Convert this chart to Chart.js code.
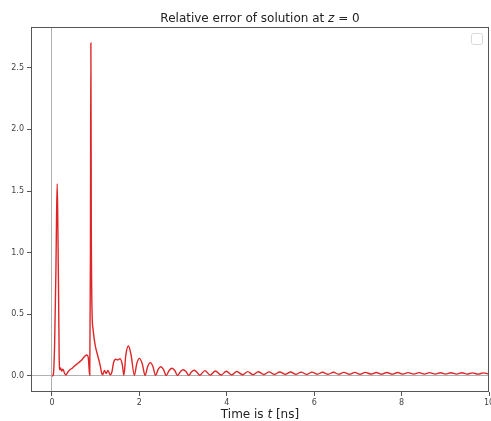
<!DOCTYPE html>
<html>
<head>
<meta charset="utf-8">
<script src="https://cdn.jsdelivr.net/npm/chart.js@4.4.1/dist/chart.umd.min.js"></script>
<style>
  html, body { margin: 0; padding: 0; background: #fff; }
  #wrap { width: 491px; height: 421px; }
</style>
</head>
<body>
<div id="wrap"><canvas id="c" width="491" height="421"></canvas></div>
<script>
// ---- data ----
const timeNs = [
  0, 0.03, 0.06, 0.09, 0.105, 0.12, 0.135, 0.15, 0.165, 0.18,
  0.2, 0.22, 0.25, 0.29, 0.32, 0.36, 0.41, 0.47, 0.53, 0.6,
  0.68, 0.75, 0.8, 0.83, 0.855, 0.865, 0.88, 0.89, 0.9, 0.915,
  0.94, 0.97, 1.0, 1.05, 1.1, 1.14, 1.16, 1.2, 1.24, 1.28,
  1.33, 1.37, 1.41, 1.46, 1.51, 1.56, 1.61, 1.645, 1.69, 1.75,
  1.81, 1.885, 1.94, 2.0, 2.065, 2.13, 2.19, 2.25, 2.31, 2.37,
  2.43, 2.49, 2.55, 2.615, 2.68, 2.745, 2.81, 2.87, 2.94, 3.0,
  3.07, 3.13, 3.19, 3.25, 3.31, 3.38, 3.5, 3.62, 3.74, 3.87,
  3.99, 4.11, 4.23, 4.36, 4.48, 4.60, 4.72, 4.85, 4.97, 5.09,
  5.21, 5.34, 5.46, 5.58, 5.70, 5.83, 5.95, 6.07, 6.19, 6.32,
  6.44, 6.56, 6.68, 6.81, 6.93, 7.05, 7.17, 7.30, 7.42, 7.54,
  7.66, 7.79, 7.91, 8.03, 8.15, 8.28, 8.40, 8.52, 8.64, 8.77,
  8.89, 9.01, 9.13, 9.26, 9.38, 9.50, 9.62, 9.75, 9.87, 10.0
];
const relError = [
  0, 0.01, 0.25, 0.85, 1.3, 1.56, 1.2, 0.7, 0.15, 0.05,
  0.065, 0.04, 0.055, 0.02, 0.008, 0.03, 0.05, 0.065, 0.085, 0.105,
  0.13, 0.16, 0.17, 0.15, 0.03, 0.005, 1.0, 2.7, 1.2, 0.55,
  0.38, 0.29, 0.23, 0.16, 0.09, 0.02, 0.01, 0.045, 0.02, 0.045,
  0.01, 0.03, 0.11, 0.135, 0.13, 0.14, 0.09, 0.005, 0.17, 0.243,
  0.17, 0.005, 0.1, 0.143, 0.1, 0.005, 0.077, 0.108, 0.077, 0.005,
  0.053, 0.075, 0.053, 0.004, 0.044, 0.062, 0.044, 0.004, 0.035, 0.05,
  0.035, 0.005, 0.032, 0.046, 0.032, 0.006, 0.043, 0.007, 0.040, 0.008,
  0.038, 0.009, 0.036, 0.010, 0.035, 0.011, 0.034, 0.012, 0.033, 0.012,
  0.032, 0.013, 0.032, 0.013, 0.031, 0.013, 0.031, 0.014, 0.030, 0.014,
  0.030, 0.014, 0.029, 0.014, 0.029, 0.014, 0.029, 0.015, 0.028, 0.015,
  0.028, 0.015, 0.028, 0.015, 0.027, 0.015, 0.027, 0.015, 0.027, 0.015,
  0.026, 0.015, 0.026, 0.015, 0.026, 0.015, 0.025, 0.015, 0.025, 0.015
];
const xTicks = [0, 2, 4, 6, 8, 10];
const yTicks = [0, 0.5, 1.0, 1.5, 2.0, 2.5];
const titleParts = [["Relative error of solution at ", false], ["z", true], [" = 0", false]];
const xLabelParts = [["Time is ", false], ["t", true], [" [ns]", false]];

const points = timeNs.map((t, i) => ({ x: t, y: relError[i] }));
const FONT = "'DejaVu Sans', sans-serif";

function drawParts(ctx, parts, cx, y, size) {
  let total = 0;
  const widths = parts.map(([s, it]) => {
    ctx.font = (it ? 'italic ' : '') + size + 'px ' + FONT;
    const w = ctx.measureText(s).width; total += w; return w;
  });
  let x = cx - total / 2;
  parts.forEach(([s, it], i) => {
    ctx.font = (it ? 'italic ' : '') + size + 'px ' + FONT;
    ctx.fillText(s, x, y);
    x += widths[i];
  });
}

const decor = {
  id: 'decor',
  afterDraw(chart) {
    const { ctx, chartArea: a } = chart;
    ctx.save();
    // frame
    ctx.strokeStyle = '#555';
    ctx.lineWidth = 1;
    ctx.strokeRect(Math.round(a.left) + 0.5, Math.round(a.top) + 0.5,
                   Math.round(a.right - a.left) - 1, Math.round(a.bottom - a.top) - 1);
    // empty legend box
    ctx.strokeStyle = '#d8d8d8';
    ctx.fillStyle = 'rgba(255,255,255,0.8)';
    ctx.beginPath();
    if (ctx.roundRect) ctx.roundRect(a.right - 17.5, a.top + 6.5, 11, 11, 2);
    else ctx.rect(a.right - 17.5, a.top + 6.5, 11, 11);
    ctx.fill(); ctx.stroke();
    // texts
    ctx.fillStyle = '#222';
    ctx.textBaseline = 'alphabetic';
    ctx.textAlign = 'left';
    drawParts(ctx, titleParts, (a.left + a.right) / 2, 22, 12);
    drawParts(ctx, xLabelParts, (a.left + a.right) / 2, 418, 12);
    ctx.restore();
  }
};

const zeroLine = (ctx) => (ctx.tick && ctx.tick.value === 0) ? '#b0b0b0' : 'rgba(0,0,0,0)';

new Chart(document.getElementById('c'), {
  type: 'line',
  data: {
    datasets: [{
      data: points,
      borderColor: 'rgb(222,38,40)',
      borderWidth: 1.4,
      pointRadius: 0,
      fill: false,
      cubicInterpolationMode: 'monotone'
    }]
  },
  options: {
    responsive: false,
    animation: false,
    devicePixelRatio: 1,
    layout: { padding: { left: 0, right: 2, top: 27, bottom: 0 } },
    plugins: { legend: { display: false }, title: { display: false }, tooltip: { enabled: false } },
    scales: {
      x: {
        type: 'linear', min: -0.48, max: 10,
        afterBuildTicks: s => { s.ticks = xTicks.map(v => ({ value: v })); },
        afterFit: s => { s.height = 29; s.paddingLeft = 0; s.paddingRight = 0; },
        ticks: { font: { size: 8, family: FONT }, color: '#444', padding: 2, maxRotation: 0,
                 callback: v => String(v) },
        grid: { color: zeroLine, tickColor: '#555', tickLength: 4, lineWidth: 1 },
        border: { display: false }
      },
      y: {
        type: 'linear', min: -0.13, max: 2.83,
        afterBuildTicks: s => { s.ticks = yTicks.map(v => ({ value: v })); },
        afterFit: s => { s.width = 31; s.paddingTop = 0; s.paddingBottom = 0; },
        ticks: { font: { size: 8, family: FONT }, color: '#444', padding: 3,
                 callback: v => Number(v).toFixed(1) },
        grid: { color: zeroLine, tickColor: '#555', tickLength: 4, lineWidth: 1 },
        border: { display: false }
      }
    }
  },
  plugins: [decor]
});
</script>
</body>
</html>
